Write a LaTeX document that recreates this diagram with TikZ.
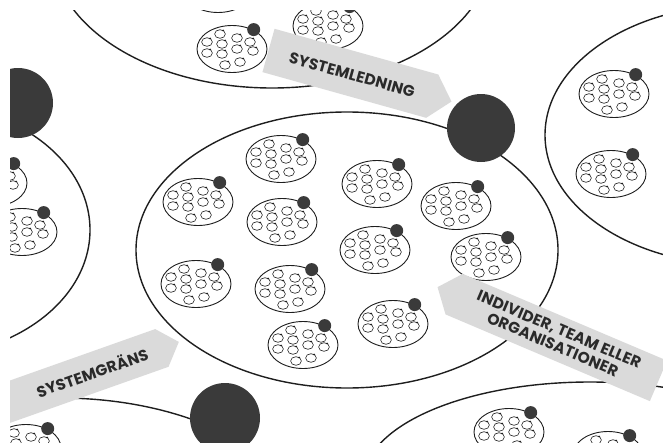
\documentclass[tikz,border=0pt]{standalone}
\usepackage{fontspec}
\newfontfamily\bannerfont{Poppins}[LetterSpace=1]
\definecolor{ink}{HTML}{1E1E1E}
\definecolor{blobgray}{HTML}{3A3A3A}
\definecolor{paper}{HTML}{DADADA}
\definecolor{labelink}{HTML}{2A2A2A}
\begin{document}
\begin{tikzpicture}[x=1pt,y=-1pt,
  boundary/.style={draw=ink,line width=1.4pt},
  hub/.style={fill=blobgray},
  banner/.style={fill=paper},
  bannertext/.style={text=labelink,font=\bannerfont\bfseries\fontsize{15.5}{16.5}\selectfont,
    align=center,inner sep=0pt},
  cluster/.pic={
    \draw[ink,line width=0.9pt] (0,0) ellipse [x radius=35,y radius=23.5];
    \foreach \dx/\dy in {-12/-15,-25/-7,-10/-5,5/-11,18/-7,-25/4,-10/5,5/0,21/2,-7/16,8/13}{
      \draw[ink,line width=0.6pt] (\dx,\dy) ellipse [x radius=5.4,y radius=4.3];
      \fill[ink] (\dx+3.2,\dy-3.5) circle (1.0);
    }
    \fill[blobgray] (21.7,-19.4) circle (6.5);
  }]
\useasboundingbox (0,0) rectangle (663,444);
\begin{scope}
\clip (10,11) rectangle (663,442);

% system boundaries
\draw[boundary] (272,-50) ellipse [x radius=220,y radius=138];
\draw[boundary] (-80,230) ellipse [x radius=170,y radius=127];
\draw[boundary] (347,250) ellipse [x radius=211,y radius=138];
\draw[boundary] (740,135) ellipse [x radius=195,y radius=130];
\draw[boundary] (60,540) ellipse [x radius=250,y radius=142];
\draw[boundary] (590,480) ellipse [x radius=226,y radius=98];

% groups inside the central system
\foreach \cx/\cy in {281/159,198/202,282/222,377/184,456/206,375/250,486/257,
                     196/284,290/289,393/324,303/345}
  \pic at (\cx,\cy) {cluster};

% groups in the neighbouring systems
\foreach \cx/\cy in {218/-11,328/26,232/49,-8/183,22/232,614/94,611/174,
                     509/432,608/455,26/448}
  \pic at (\cx,\cy) {cluster};

% labels on paper arrows
\begin{scope}[shift={(360,76)},rotate=-15.6]
  \fill[banner] (-95,-22.5) -- (75,-22.5) -- (95,0) -- (75,22.5) -- (-95,22.5) -- cycle;
\end{scope}
\begin{scope}[shift={(548,334)},rotate=-23]
  \fill[banner] (120,-22) -- (-102,-22) -- (-120,0) -- (-102,22) -- (120,22) -- cycle;
\end{scope}
\begin{scope}[shift={(77.5,377.8)},rotate=19.5]
  \fill[banner] (-107.5,-20) -- (89.5,-20) -- (107.5,0) -- (89.5,20) -- (-107.5,20) -- cycle;
\end{scope}

\node[bannertext,rotate=-15.6] (ledning) at (352,75) {SYSTEMLEDNING};
\node[bannertext,rotate=-23] (individer) at (556,337) {INDIVIDER, TEAM ELLER\\ORGANISATIONER};
\node[bannertext,rotate=19.5] (grans) at (92,372) {SYSTEMGRÄNS};

% system management hubs
\fill[hub] (18,103) circle (35);
\fill[hub] (481,128) circle (34);
\fill[hub] (225,418) circle (35);
\end{scope}
\end{tikzpicture}
\end{document}
